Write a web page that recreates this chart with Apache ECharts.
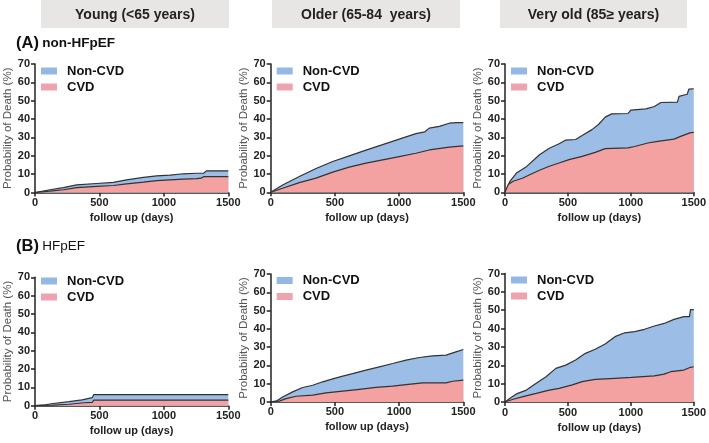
<!DOCTYPE html>
<html>
<head>
<meta charset="utf-8">
<script src="https://cdn.jsdelivr.net/npm/echarts@6/dist/echarts.min.js"></script>
<style>
  html, body { margin: 0; padding: 0; background: #fff; }
  #chart { width: 709px; height: 443px; }
</style>
</head>
<body>
<div id="chart"></div>
<script>
// column headers and row labels
const ageGroups = ['Young (<65 years)', 'Older (65-84  years)', 'Very old (85\u2265 years)'];
const rowLabels = [['(A)', 'non-HFpEF'], ['(B)', 'HFpEF']];
const seriesNames = ['Non-CVD', 'CVD'];
const xTicks = [0, 500, 1000, 1500];
const yTicks = [0, 10, 20, 30, 40, 50, 60, 70];

// [day, cumulative %]; "all" is the top (all-cause) line
const allYoungA = [[0,0],[116,1.5],[220,2.7],[323,4.2],[478,4.9],[608,5.5],[711,6.9],[841,8.2],[944,9.1],[1047,9.5],[1151,10.2],[1254,10.5],[1310,10.6],[1330,11.8],[1500,11.8]];
const cvdYoungA = [[0,0],[116,0.7],[220,1.5],[323,2.7],[478,3.3],[608,3.8],[711,4.7],[841,5.6],[944,6.5],[1047,6.9],[1151,7.3],[1254,7.6],[1290,7.8],[1310,8.7],[1500,8.7]];

const allOlderA = [[0,0],[93,4],[223,8.6],[353,13],[483,16.8],[612,19.9],[742,23],[872,26],[1001,29],[1131,32],[1200,33],[1235,35],[1313,36],[1391,37.7],[1450,38],[1500,38]];
const cvdOlderA = [[0,0],[93,2.2],[223,5.3],[353,7.7],[483,11],[612,13.7],[742,15.9],[872,17.7],[1001,19.5],[1131,21.3],[1235,23.1],[1391,24.6],[1500,25.3]];

const allVeryOldA = [[0,0],[13,1.5],[39,6],[91,10.5],[170,14],[235,18],[274,20.5],[352,24],[430,26.5],[483,28.5],[561,28.8],[626,31.5],[691,34.2],[743,37],[796,41],[848,42.8],[978,43],[1000,44.8],[1120,45.5],[1187,46.8],[1239,49],[1370,49.2],[1383,52.3],[1448,53.5],[1461,56.3],[1500,56.5]];
const cvdVeryOldA = [[0,0],[26,4.2],[65,6],[143,7.8],[196,9.6],[274,12],[352,14.2],[430,16],[509,17.8],[613,19.6],[717,21.8],[796,23.8],[978,24.2],[1030,25],[1135,26.9],[1213,27.8],[1343,29],[1396,30.5],[1469,32.4],[1500,32.7]];

const allYoungB = [[0,0],[80,0.5],[140,1.2],[155,2],[265,2.2],[275,3],[365,3.2],[380,4.2],[445,4.4],[455,6],[1500,6]];
const cvdYoungB = [[0,0],[140,0.3],[155,0.6],[265,0.8],[275,1.3],[380,1.6],[445,1.8],[455,3],[1500,3]];

const allOlderB = [[0,0],[42,0.4],[93,2.7],[171,5.5],[249,7.9],[327,9.1],[405,11],[483,12.6],[561,14.1],[638,15.5],[742,17.4],[846,19.2],[950,21],[1054,22.9],[1158,24.3],[1261,25.2],[1365,25.6],[1443,27.4],[1500,28.7]];
const cvdOlderB = [[0,0],[67,0.4],[119,1.8],[197,3.1],[327,3.7],[431,4.9],[561,5.9],[690,6.9],[820,7.9],[950,8.6],[1054,9.5],[1183,10.4],[1365,10.4],[1417,11.3],[1500,11.9]];

const allVeryOldB = [[0,0],[39,2],[91,4.4],[170,6.5],[248,10.2],[326,13.8],[404,18.3],[483,20.1],[561,22.9],[639,26.5],[717,28.7],[796,31.6],[874,35.6],[952,37.7],[1030,38.3],[1109,39.6],[1187,41.4],[1265,42.8],[1343,45],[1422,46.5],[1466,46.5],[1474,50.3],[1500,50.3]];
const cvdVeryOldB = [[0,0],[65,1.5],[143,2.9],[248,4.7],[352,6.5],[430,7.4],[535,9.3],[613,11.1],[717,12.3],[874,12.9],[1004,13.4],[1187,14.2],[1265,15.2],[1317,16.5],[1422,17.4],[1474,18.9],[1500,19.2]];

const panelData = [
  [allYoungA, cvdYoungA], [allOlderA, cvdOlderA], [allVeryOldA, cvdVeryOldA],
  [allYoungB, cvdYoungB], [allOlderB, cvdOlderB], [allVeryOldB, cvdVeryOldB]
];

// plot rectangles (px)
const cells = [
  { left: 35,    top: 64,    width: 193.3, height: 128.5 },
  { left: 270.7, top: 64,    width: 192.6, height: 128.3 },
  { left: 505,   top: 64,    width: 191.7, height: 128.3 },
  { left: 35,    top: 277.3, width: 193.3, height: 128.4 },
  { left: 270.7, top: 274,   width: 192.6, height: 127.9 },
  { left: 505,   top: 273.5, width: 191.7, height: 128.5 }
];
const legendCenters = [71, 71, 71, 281, 280.5, 280];
const headerBoxes = [{ x: 41, w: 188 }, { x: 272, w: 188 }, { x: 500, w: 187 }];
const rowLabelY = [43.5, 246.5];

const BLUE = '#9bbde6';
const PINK = '#f4a1a1';
const INK = '#222';
const FONT = '"Liberation Sans", Arial, sans-serif';

const grid = [], xAxis = [], yAxis = [], legend = [], series = [];

cells.forEach((c, i) => {
  grid.push({ left: c.left, top: c.top, width: c.width, height: c.height });

  xAxis.push({
    gridIndex: i, type: 'value',
    min: xTicks[0], max: xTicks[xTicks.length - 1], interval: xTicks[1] - xTicks[0],
    name: 'follow up (days)', nameLocation: 'middle', nameGap: 20,
    nameTextStyle: { fontSize: 11, fontWeight: 'bold', color: INK, fontFamily: FONT },
    axisLine: { lineStyle: { color: INK, width: 1.5 } },
    axisTick: { length: 4, lineStyle: { color: INK, width: 1.5 } },
    axisLabel: { fontSize: 11, fontWeight: 'bold', color: INK, margin: 5, fontFamily: FONT, formatter: v => String(v) },
    splitLine: { show: false }
  });

  yAxis.push({
    gridIndex: i, type: 'value',
    min: yTicks[0], max: yTicks[yTicks.length - 1], interval: yTicks[1] - yTicks[0],
    name: 'Probability of Death (%)', nameLocation: 'middle', nameGap: 21, nameRotate: 90,
    nameTextStyle: { fontSize: 11.5, color: '#555', fontFamily: FONT },
    axisLine: { show: true, lineStyle: { color: INK, width: 1.5 } },
    axisTick: { show: true, length: 4, lineStyle: { color: INK, width: 1.5 } },
    axisLabel: { fontSize: 11, fontWeight: 'bold', color: INK, margin: 5, fontFamily: FONT },
    splitLine: { show: false }
  });

  legend.push({
    orient: 'vertical',
    left: c.left + 6, top: legendCenters[i] - 7.5,
    icon: 'rect', itemWidth: 16, itemHeight: 7, itemGap: 1,
    padding: 0,
    selectedMode: false,
    data: [
      { name: seriesNames[0], itemStyle: { color: '#93b8e3', borderWidth: 0 } },
      { name: seriesNames[1], itemStyle: { color: '#efa3ae', borderWidth: 0 } }
    ],
    textStyle: { fontSize: 13, fontWeight: 'bold', color: '#111', lineHeight: 15, padding: [0, 0, 0, 5], fontFamily: FONT }
  });

  const [allCause, cvd] = panelData[i];
  series.push({
    name: seriesNames[0], type: 'line', xAxisIndex: i, yAxisIndex: i,
    data: allCause, symbol: 'none', z: 2,
    itemStyle: { color: BLUE },
    lineStyle: { color: '#333', width: 1.2 },
    areaStyle: { color: BLUE, opacity: 1 }
  });
  series.push({
    name: seriesNames[1], type: 'line', xAxisIndex: i, yAxisIndex: i,
    data: cvd, symbol: 'none', z: 3,
    itemStyle: { color: PINK },
    lineStyle: { color: '#333', width: 1.2 },
    areaStyle: { color: PINK, opacity: 1 }
  });
});

const graphic = [];
headerBoxes.forEach((b, i) => {
  graphic.push({ type: 'rect', shape: { x: b.x, y: 0, width: b.w, height: 28 }, style: { fill: '#e8e6e4' }, silent: true });
  graphic.push({
    type: 'text', x: b.x + b.w / 2, y: 15.5,
    style: { text: ageGroups[i], fill: INK, font: 'bold 14px ' + FONT, textAlign: 'center', textVerticalAlign: 'middle' }
  });
});
rowLabels.forEach((r, i) => {
  graphic.push({
    type: 'text', x: 16, y: rowLabelY[i],
    style: {
      text: '{a|' + r[0] + '} {b|' + r[1] + '}',
      textVerticalAlign: 'middle',
      rich: {
        a: { fontSize: 16.5, fontWeight: 'bold', fill: '#111', fontFamily: FONT },
        b: { fontSize: 13.5, fontWeight: i === 0 ? 'bold' : 'normal', fill: '#111', fontFamily: FONT }
      }
    }
  });
});

const chart = echarts.init(document.getElementById('chart'), null, { renderer: 'canvas' });
chart.setOption({
  animation: false,
  backgroundColor: '#fff',
  textStyle: { fontFamily: FONT },
  grid, xAxis, yAxis, legend, series, graphic
});
</script>
</body>
</html>
